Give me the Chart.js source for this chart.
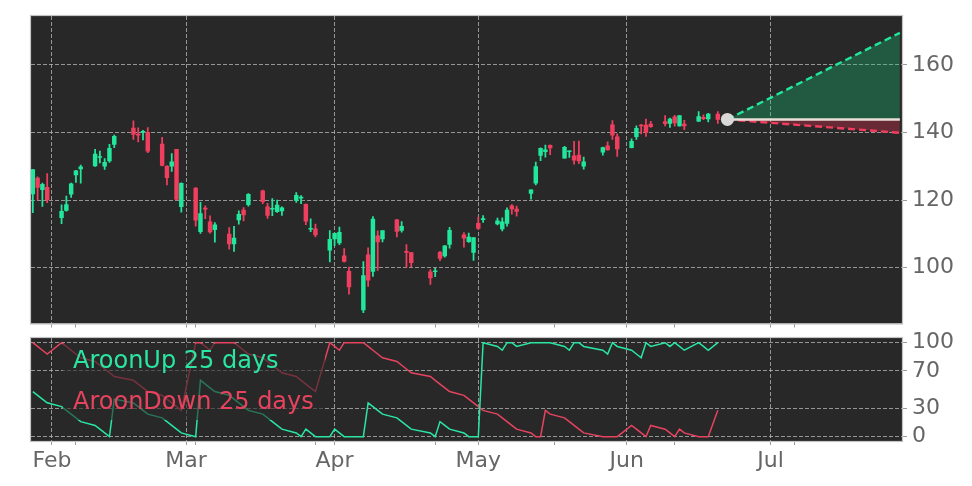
<!DOCTYPE html>
<html><head><meta charset="utf-8">
<script src="https://cdn.jsdelivr.net/npm/chart.js@4.4.1/dist/chart.umd.min.js"></script>
<style>
html,body{margin:0;padding:0;background:#fff;}
#wrap{position:relative;width:972px;height:486px;overflow:hidden;background:#fff;}
canvas{position:absolute;left:0;}
#c1{top:0;}
#c2{top:330px;}
</style></head><body>
<div id="wrap"><canvas id="c1" width="972" height="330" style="width:972px;height:330px"></canvas><canvas id="c2" width="972" height="156" style="width:972px;height:156px"></canvas></div>
<script>
// ---------------- data ----------------
const dates = [
'2025-01-28','2025-01-29','2025-01-30','2025-01-31',
'2025-02-03','2025-02-04','2025-02-05','2025-02-06','2025-02-07',
'2025-02-10','2025-02-11','2025-02-12','2025-02-13','2025-02-14',
'2025-02-18','2025-02-19','2025-02-20','2025-02-21',
'2025-02-24','2025-02-25','2025-02-26','2025-02-27','2025-02-28',
'2025-03-03','2025-03-04','2025-03-05','2025-03-06','2025-03-07',
'2025-03-10','2025-03-11','2025-03-12','2025-03-13','2025-03-14',
'2025-03-17','2025-03-18','2025-03-19','2025-03-20','2025-03-21',
'2025-03-24','2025-03-25','2025-03-26','2025-03-27','2025-03-28',
'2025-03-31',
'2025-04-01','2025-04-02','2025-04-03','2025-04-04',
'2025-04-07','2025-04-08','2025-04-09','2025-04-10','2025-04-11',
'2025-04-14','2025-04-15','2025-04-16','2025-04-17',
'2025-04-21','2025-04-22','2025-04-23','2025-04-24','2025-04-25',
'2025-04-28','2025-04-29','2025-04-30',
'2025-05-01','2025-05-02',
'2025-05-05','2025-05-06','2025-05-07','2025-05-08','2025-05-09',
'2025-05-12','2025-05-13','2025-05-14','2025-05-15','2025-05-16',
'2025-05-19','2025-05-20','2025-05-21','2025-05-22','2025-05-23',
'2025-05-27','2025-05-28','2025-05-29','2025-05-30',
'2025-06-02','2025-06-03','2025-06-04','2025-06-05','2025-06-06',
'2025-06-09','2025-06-10','2025-06-11','2025-06-12','2025-06-13',
'2025-06-16','2025-06-17','2025-06-18','2025-06-20'
];
const opens = [
121.81,126.5,123.1,123.78,
114.75,116.96,121.76,127.42,129.22,
130.09,132.58,130.02,131.56,136.48,
141.27,139.51,140.03,140.04,
136.56,129.98,129.99,135.0,118.02,
123.51,110.65,117.58,113.53,111.25,
109.9,106.99,114.12,117.03,118.61,
122.74,118.0,117.27,116.55,116.76,
119.88,120.55,118.73,111.35,111.49,
105.13,
108.52,107.29,103.51,98.91,
87.46,103.81,98.89,109.37,108.5,
114.11,110.97,104.55,104.45,
98.77,98.78,104.52,103.48,106.85,
109.69,107.67,104.47,
113.08,114.18,
112.91,111.48,113.05,118.25,117.35,
121.97,124.98,133.2,134.3,136.22,
132.39,134.29,133.06,133.3,130.0,
134.15,136.03,142.25,138.72,
135.49,138.78,142.19,142.17,142.51,
143.19,142.69,144.61,141.97,142.51,
143.35,144.49,144.01,145.45
];
const highs = [
129.0,126.89,125.0,127.85,
118.57,121.2,125.0,128.77,130.37,
135.0,134.48,132.24,136.5,139.25,
143.44,141.36,140.67,141.46,
138.59,130.2,133.73,135.01,125.09,
123.7,119.31,118.28,115.35,113.34,
111.85,112.23,116.77,117.76,121.89,
122.98,119.02,120.45,120.0,117.99,
122.22,121.29,118.84,114.45,112.87,
110.96,
110.2,111.98,105.63,100.13,
101.75,105.85,115.1,110.86,110.86,
114.29,113.62,106.8,104.47,
99.43,99.81,104.8,106.54,111.92,
110.37,110.2,108.92,
114.94,115.4,
114.67,114.74,117.68,118.68,118.23,
123.0,131.22,135.44,136.3,136.35,
135.87,134.58,137.4,137.45,132.68,
135.66,137.25,143.49,139.62,
138.12,142.0,142.39,144.0,143.27,
145.0,144.29,145.1,145.0,143.58,
146.18,145.22,145.65,146.2
];
const lows = [
116.25,120.05,118.1,119.19,
113.01,116.7,120.76,125.21,125.0,
129.96,131.02,129.08,131.17,135.5,
137.93,137.22,137.78,134.03,
130.08,124.44,128.49,120.01,116.4,
112.28,110.11,114.51,110.22,107.56,
105.46,104.77,112.88,113.79,118.15,
118.9,114.54,115.36,116.3,115.43,
119.28,118.9,112.7,110.66,109.07,
101.71,
106.47,106.79,101.6,92.11,
86.62,94.46,97.41,99.15,107.58,
109.07,110.5,100.05,100.2,
95.04,97.28,102.02,103.11,105.73,
106.02,107.44,102.16,
111.3,113.37,
112.66,110.82,112.28,115.85,115.21,
120.28,124.47,131.68,132.66,133.46,
132.39,132.62,130.59,130.8,129.16,
133.31,134.79,137.91,132.92,
135.4,137.95,139.55,138.83,141.51,
141.94,141.53,141.87,141.85,140.85,
143.2,143.78,143.12,142.65
];
const closes = [
128.99,123.7,124.65,120.07,
116.66,118.65,124.83,128.68,129.84,
133.57,132.8,131.14,135.29,138.85,
139.4,139.23,140.11,134.43,
130.28,126.63,131.28,120.15,124.92,
114.06,115.99,117.3,110.57,112.69,
106.98,108.76,115.74,115.58,121.67,
119.53,115.43,117.52,118.53,117.7,
121.41,120.69,113.76,111.43,109.67,
108.38,
110.15,110.42,101.8,94.31,
97.64,96.3,114.33,107.57,110.93,
110.71,112.2,104.49,101.49,
96.91,98.89,102.71,106.43,111.01,
108.73,109.02,108.92,
111.61,114.5,
113.82,113.54,117.06,117.37,116.65,
123.0,129.93,135.34,134.83,135.4,
135.57,134.38,131.8,131.6,131.29,
135.5,134.81,139.19,135.13,
137.38,141.22,141.92,139.99,141.72,
142.63,143.96,142.83,145.0,141.97,
144.69,144.12,145.48,143.85
];
const aroonUp = [
48,44,40,36,
32,28,24,20,16,
12,8,4,0,40,
36,32,28,24,
20,16,12,8,4,
0,60,56,52,48,
44,40,36,32,28,
24,20,16,12,8,
4,0,8,4,0,
0,
8,4,0,0,
0,36,32,28,24,
20,16,12,8,
4,0,16,12,8,
4,0,0,
0,100,
96,92,100,100,96,
100,100,100,100,100,
96,92,100,100,96,
92,88,100,96,
92,88,84,100,96,
100,96,100,96,92,
100,96,92,100
];
const aroonDown = [
100,96,92,88,
100,96,92,88,84,
80,76,72,68,64,
60,56,52,48,
44,40,36,32,28,
100,100,96,92,100,
100,100,96,92,88,
84,80,76,72,68,
64,60,56,52,48,
100,
96,92,100,100,
100,96,92,88,84,
80,76,72,68,
64,60,56,52,48,
44,40,36,
32,28,
24,20,16,12,8,
4,0,0,28,24,
20,16,12,8,4,
0,0,0,0,
12,8,4,0,12,
8,4,0,8,4,
0,0,0,28
];
const projDates = ['2025-06-22','2025-07-28'];
const projBase  = [143.85, 143.85];
const projUpper = [143.85, 169.5];
const projLower = [143.85, 139.9];

const monthTickDates  = ['2025-02-01','2025-03-01','2025-04-01','2025-05-01','2025-06-01','2025-07-01'];
const monthTickLabels = ['Feb','Mar','Apr','May','Jun','Jul'];
const minorTickDates  = ['2025-02-06','2025-03-03','2025-03-28','2025-04-22','2025-05-17','2025-06-11','2025-07-06'];
const priceTicks = [100,120,140,160];
const aroonTicks = [0,30,70,100];
const legendLabels = ['AroonUp 25 days','AroonDown 25 days'];

// ---------------- helpers / styles ----------------
function dayNum(s){const p=s.split('-').map(Number);return (Date.UTC(p[0],p[1]-1,p[2])-Date.UTC(p[0],0,1))/864e5;}
const xs = dates.map(dayNum);
const majorX = monthTickDates.map(dayNum);
const minorX = minorTickDates.map(dayNum);
const allTicksX = majorX.concat(minorX).sort((a,b)=>a-b);
const labelFor = {}; majorX.forEach((v,i)=>labelFor[v]=monthTickLabels[i]);
const X_MIN = dayNum('2025-01-27') + 0.62;
const X_MAX = dayNum('2025-07-28') + 0.45;

const GREEN = '#22e69c', RED = '#f03e5e';
const LGREEN = '#2ae6a2', LRED = '#e6435f';
const BG = '#282828';
const GRID = 'rgba(185,185,185,0.75)';
const TICKC = '#9a9a9a';
const FRAME = '#c4c4c4';
const LABEL = '#666666';
const FONT = 'DejaVu Sans';

const bgPlugin = {
  id:'bgframe',
  beforeDraw(c){const a=c.chartArea,x=c.ctx;x.save();x.fillStyle=BG;x.fillRect(a.left,a.top,a.right-a.left,a.bottom-a.top);x.restore();},
  afterDraw(c){const a=c.chartArea,x=c.ctx;x.save();x.strokeStyle=FRAME;x.lineWidth=1.2;x.strokeRect(a.left-0.5,a.top-0.5,a.right-a.left+1,a.bottom-a.top+1);x.restore();}
};

function xScale(showLabels, h){
  return {
    type:'linear', min:X_MIN, max:X_MAX, offset:false,
    afterBuildTicks:s=>{s.ticks=allTicksX.map(v=>({value:v}));},
    ticks:{display:showLabels, autoSkip:false, maxRotation:0, color:LABEL, font:{family:FONT,size:22}, padding:3},
    grid:{offset:false, lineWidth:1, color:ctx=> (ctx.tick && labelFor[ctx.tick.value]!==undefined)? GRID : 'rgba(0,0,0,0)',
      tickColor:TICKC, tickLength:4, tickWidth:1},
    border:{display:false, dash:[4,2]},
    afterFit:s=>{s.height=h; s.paddingLeft=0; s.paddingRight=0;}
  };
}
function yScale(min,max,ticks){
  return {
    position:'right', min:min, max:max,
    afterBuildTicks:s=>{s.ticks=ticks.map(v=>({value:v}));},
    ticks:{color:LABEL, font:{family:FONT,size:22}, padding:5},
    grid:{color:GRID, lineWidth:1, tickColor:TICKC, tickLength:5, tickWidth:1},
    border:{display:false, dash:[4,2]},
    afterFit:s=>{s.width=70; s.paddingTop=0; s.paddingBottom=0;}
  };
}
function tickCallback(v){ return labelFor[v]!==undefined ? labelFor[v] : ''; }

// ---------------- price chart ----------------
const isUp = closes.map((c,i)=>c>=opens[i]);
const candleCols = isUp.map(u=>u?GREEN:RED);
const px = projDates.map(dayNum);

const xTop = xScale(false,6);
new Chart(document.getElementById('c1'),{
  type:'bar',
  data:{datasets:[
    {type:'line', order:0, data:[{x:px[0],y:projBase[0]}], showLine:false, pointRadius:6.5, pointBackgroundColor:'#d9d9d9', pointBorderWidth:0},
    {type:'line', order:1, data:px.map((x,i)=>({x,y:projBase[i]})), borderColor:'#e8dfd9', borderWidth:2.5, pointRadius:0, fill:false},
    {type:'line', order:2, data:px.map((x,i)=>({x,y:projUpper[i]})), borderColor:GREEN, borderWidth:2.4, borderDash:[7,4], pointRadius:0, fill:{target:1}, backgroundColor:'rgba(24,205,125,0.30)'},
    {type:'line', order:3, data:px.map((x,i)=>({x,y:projLower[i]})), borderColor:RED, borderWidth:2.4, borderDash:[7,4], pointRadius:0, fill:{target:1}, backgroundColor:'rgba(240,50,80,0.32)'},
    {type:'bar', order:5, grouped:false, data:xs.map((x,i)=>({x,y:[opens[i],closes[i]]})), backgroundColor:candleCols, barThickness:3.8, minBarLength:1, borderWidth:0},
    {type:'bar', order:6, grouped:false, data:xs.map((x,i)=>({x,y:[lows[i],highs[i]]})), backgroundColor:candleCols, barThickness:1.1, borderWidth:0}
  ]},
  options:{
    responsive:false, animation:false, events:[],
    layout:{padding:{left:31,top:16,right:0,bottom:0}},
    plugins:{legend:{display:false},tooltip:{enabled:false}},
    scales:{ x:xTop, y:yScale(83.45,174.48,priceTicks) }
  },
  plugins:[bgPlugin]
});

// ---------------- aroon chart ----------------
const legendPlugin = {
  id:'aroonLegend',
  afterDatasetsDraw(c){
    const x=c.ctx, a=c.chartArea; x.save();
    x.fillStyle='rgba(40,40,40,0.6)';
    x.fillRect(a.left+32, a.top+6, 262, 76);
    x.font='24px "'+FONT+'"'; x.textBaseline='alphabetic'; x.textAlign='left';
    x.fillStyle=LGREEN; x.fillText(legendLabels[0], a.left+42, a.top+30);
    x.fillStyle=LRED; x.fillText(legendLabels[1], a.left+42, a.top+71);
    x.restore();
  }
};
const xBot = xScale(true,45);
xBot.ticks.callback = tickCallback;
new Chart(document.getElementById('c2'),{
  type:'line',
  data:{datasets:[
    {data:xs.map((x,i)=>({x,y:aroonUp[i]})), borderColor:LGREEN, borderWidth:1.5, pointRadius:0, tension:0, fill:false},
    {data:xs.map((x,i)=>({x,y:aroonDown[i]})), borderColor:LRED, borderWidth:1.5, pointRadius:0, tension:0, fill:false}
  ]},
  options:{
    responsive:false, animation:false, events:[],
    layout:{padding:{left:31,top:8,right:0,bottom:0}},
    plugins:{legend:{display:false},tooltip:{enabled:false}},
    scales:{ x:xBot, y:yScale(-4.6,105,aroonTicks) }
  },
  plugins:[bgPlugin, legendPlugin]
});
</script>
</body></html>
